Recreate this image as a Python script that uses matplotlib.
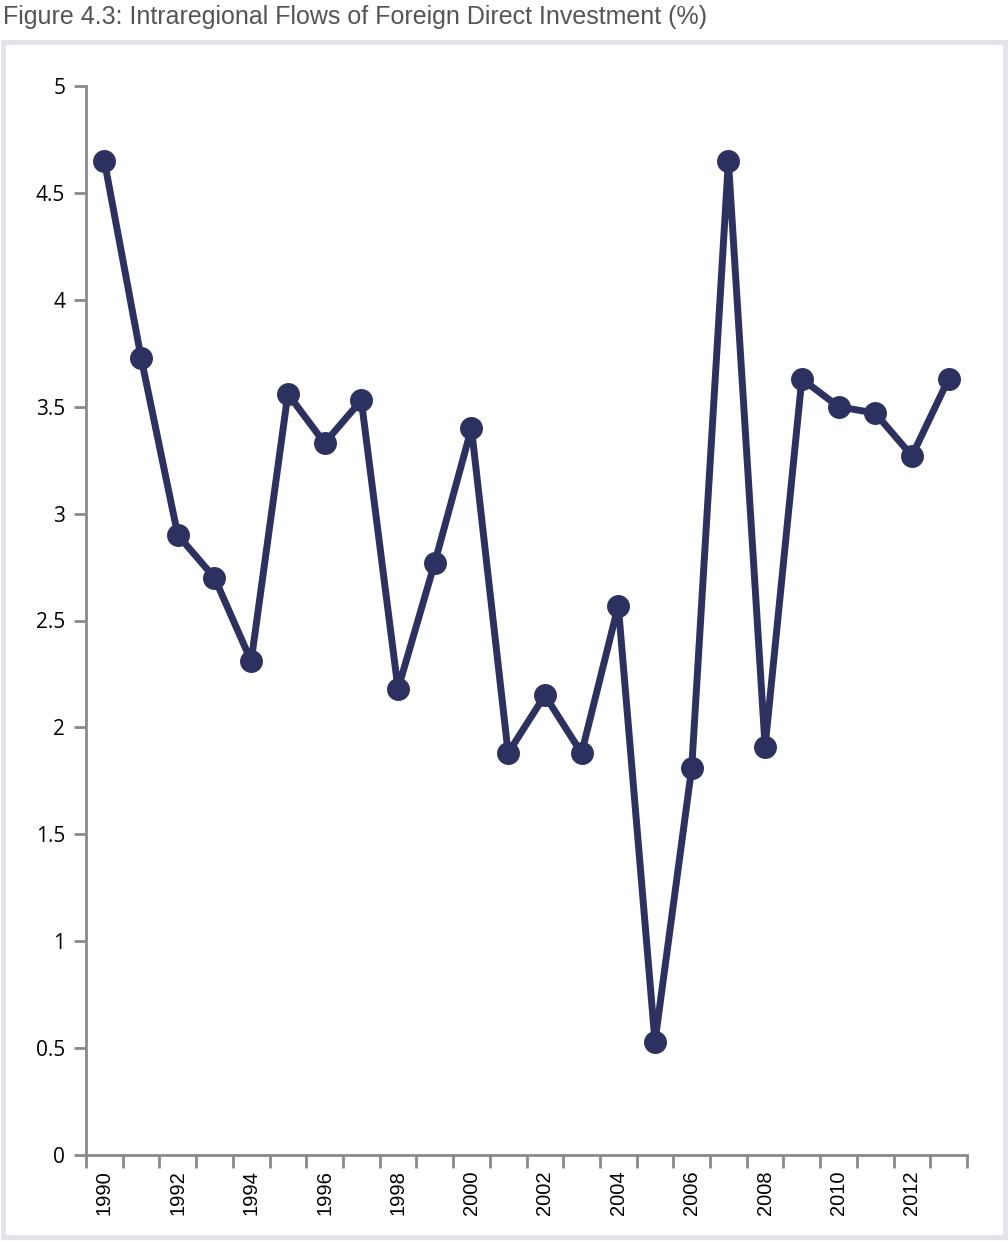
import matplotlib
matplotlib.use("Agg")
import matplotlib.pyplot as plt
from matplotlib.patches import Rectangle
from matplotlib.ticker import MultipleLocator, FixedLocator

years = list(range(1990, 2014))
fdi_share = [4.65, 3.73, 2.90, 2.70, 2.31, 3.56, 3.33, 3.53, 2.18, 2.77,
             3.40, 1.88, 2.15, 1.88, 2.57, 0.53, 1.81, 4.65, 1.91, 3.63,
             3.50, 3.47, 3.27, 3.63]
year_labels = [str(y) for y in years if y % 2 == 0]

title = "Figure 4.3: Intraregional Flows of Foreign Direct Investment (%)"
line_color = "#2d3160"
axis_color = "#8a8a8a"

fig = plt.figure(figsize=(10.08, 12.41), dpi=100)

# light frame around the chart
frame = Rectangle((0.003, 0.003), 0.994, 0.963, transform=fig.transFigure,
                  fill=False, edgecolor="#e2e2ec", linewidth=3.5)
fig.patches.append(frame)

fig.text(0.003, 0.986, title, ha="left", va="center", fontsize=18,
         color="#555555", family=["Liberation Sans", "DejaVu Sans"])

ax = fig.add_axes([86 / 1008, 1 - 1155 / 1241, (967 - 86) / 1008, (1155 - 86) / 1241])
ax.plot(years, fdi_share, color=line_color, linewidth=5, marker="o",
        markersize=15.5, clip_on=False, zorder=3)

ax.set_xlim(1989.5, 2013.5)
ax.set_ylim(0, 5)

for s in ["top", "right"]:
    ax.spines[s].set_visible(False)
for s in ["left", "bottom"]:
    ax.spines[s].set_color(axis_color)
    ax.spines[s].set_linewidth(2)

ax.yaxis.set_major_locator(MultipleLocator(0.5))
ax.set_yticklabels([f"{v:g}" for v in ax.get_yticks()],
                   family=["Open Sans", "DejaVu Sans"])
ax.tick_params(axis="y", direction="out", length=9, width=2, color=axis_color,
               labelsize=15, pad=6)

ax.xaxis.set_major_locator(FixedLocator([y for y in years if y % 2 == 0]))
ax.set_xticklabels(year_labels, rotation=90, fontsize=14.5,
                   family=["Liberation Sans", "DejaVu Sans"])
ax.xaxis.set_minor_locator(FixedLocator([1989.5 + i for i in range(25)]))
ax.tick_params(axis="x", which="major", length=0, pad=11)
ax.tick_params(axis="x", which="minor", direction="out", length=9, width=2,
               color=axis_color)

fig.savefig("out.png", dpi=100)
